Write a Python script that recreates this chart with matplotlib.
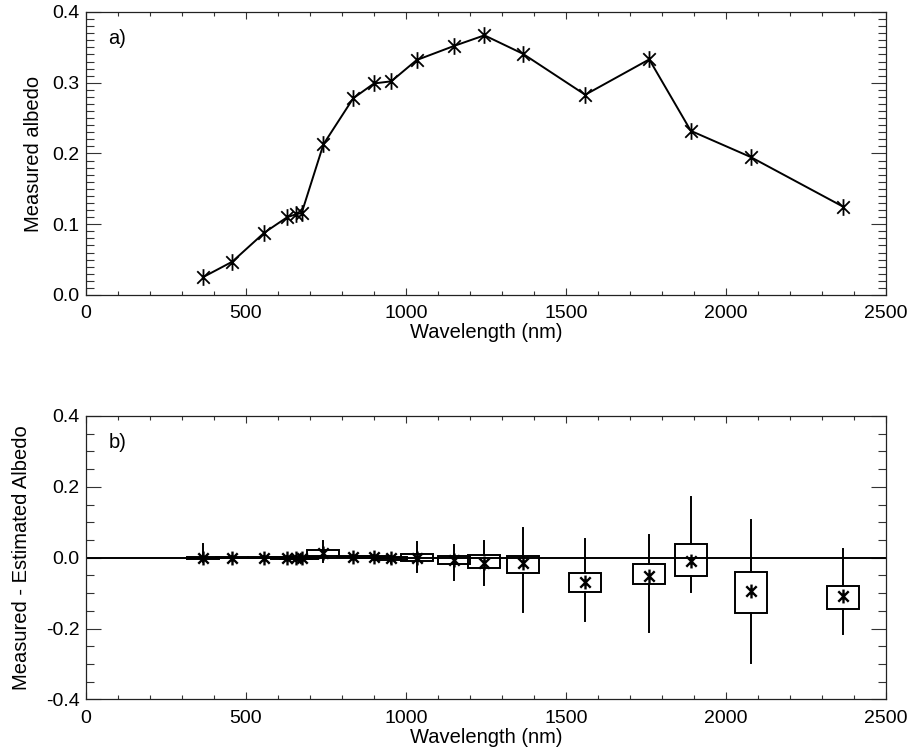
import matplotlib
matplotlib.use("Agg")
import matplotlib.pyplot as plt
from matplotlib.path import Path
from matplotlib.patches import Rectangle
from matplotlib.ticker import MultipleLocator

plt.rcParams["font.family"] = ["Liberation Sans", "DejaVu Sans"]

# Data
wavelength = [365, 457, 557, 629, 656, 674, 742, 835, 900, 954, 1033, 1150,
              1245, 1365, 1560, 1760, 1890, 2077, 2365]
albedo = [0.025, 0.047, 0.088, 0.110, 0.114, 0.116, 0.213, 0.278, 0.299, 0.302,
          0.332, 0.352, 0.367, 0.341, 0.283, 0.333, 0.232, 0.195, 0.125]

diff_mean = [0.0, 0.0, 0.0, -0.001, -0.002, -0.002, 0.012, 0.003, 0.002, -0.002,
             0.0, -0.006, -0.014, -0.015, -0.068, -0.051, -0.009, -0.093, -0.108]
box_hi = [0.003, 0.002, 0.002, 0.002, 0.002, 0.002, 0.023, 0.005, 0.004, 0.002,
          0.010, 0.005, 0.007, 0.005, -0.044, -0.019, 0.040, -0.040, -0.079]
box_lo = [-0.003, -0.002, -0.002, -0.003, -0.004, -0.004, 0.004, 0.001, 0.0, -0.005,
          -0.010, -0.019, -0.029, -0.042, -0.097, -0.075, -0.051, -0.157, -0.146]
whisk_hi = [0.040, 0.005, 0.005, 0.006, 0.006, 0.006, 0.046, 0.009, 0.008, 0.006,
            0.043, 0.037, 0.046, 0.084, 0.054, 0.063, 0.171, 0.106, 0.026]
whisk_lo = [-0.012, -0.005, -0.005, -0.007, -0.008, -0.008, -0.012, -0.004, -0.005, -0.015,
            -0.040, -0.063, -0.077, -0.153, -0.179, -0.209, -0.098, -0.296, -0.215]
box_width = 100

# IDL-style asterisk: vertical bar plus an X
d = 0.75
star = Path([(0, -1), (0, 1), (-d, -d), (d, d), (-d, d), (d, -d)],
            [Path.MOVETO, Path.LINETO, Path.MOVETO, Path.LINETO, Path.MOVETO, Path.LINETO])


def style_axes(ax, ymaj, ymin):
    ax.set_xlim(0, 2500)
    ax.xaxis.set_major_locator(MultipleLocator(500))
    ax.xaxis.set_minor_locator(MultipleLocator(100))
    ax.yaxis.set_major_locator(MultipleLocator(ymaj))
    ax.yaxis.set_minor_locator(MultipleLocator(ymin))
    ax.yaxis.set_major_formatter(plt.FormatStrFormatter("%.1f"))
    ax.tick_params(axis="both", which="both", direction="in", top=True, right=True,
                   labelsize=14, width=0.8, color="#333333")
    ax.tick_params(axis="y", which="major", length=11, pad=4.5)
    ax.tick_params(axis="y", which="minor", length=6)
    ax.tick_params(axis="x", which="major", length=5, pad=7.5)
    ax.tick_params(axis="x", which="minor", length=3)
    for s in ax.spines.values():
        s.set_linewidth(0.9)
        s.set_color("#222222")
    ax.set_xlabel("Wavelength (nm)", fontsize=14.5, va="top")
    ax.xaxis.set_label_coords(0.5, -0.1)


fig = plt.figure(figsize=(9.14, 7.54), dpi=100)

# a) measured albedo
ax1 = fig.add_axes([0.0941, 0.6088, 0.8753, 0.3753])
ax1.plot(wavelength, albedo, color="black", lw=1.4, marker=star, ms=12, mew=1.3)
ax1.set_ylim(0, 0.4)
style_axes(ax1, 0.1, 0.01)
ax1.set_ylabel("Measured albedo", fontsize=14.5, labelpad=7)
ax1.text(0.028, 0.905, "a)", transform=ax1.transAxes, fontsize=14.5, va="center")

# b) measured - estimated
ax2 = fig.add_axes([0.0941, 0.0723, 0.8753, 0.376])
ax2.axhline(0, color="black", lw=1.4)
for x, m, bh, bl, wh, wl in zip(wavelength, diff_mean, box_hi, box_lo, whisk_hi, whisk_lo):
    ax2.add_patch(Rectangle((x - box_width / 2, bl), box_width, bh - bl,
                            fill=False, edgecolor="black", lw=1.4))
    ax2.plot([x, x], [bh, wh], color="black", lw=1.4)
    ax2.plot([x, x], [wl, bl], color="black", lw=1.4)
ax2.plot(wavelength, diff_mean, ls="none", color="black", marker=star, ms=10, mew=1.7)
ax2.set_ylim(-0.4, 0.4)
style_axes(ax2, 0.2, 0.05)
ax2.set_ylabel("Measured - Estimated Albedo", fontsize=14.5, labelpad=11)
ax2.text(0.028, 0.908, "b)", transform=ax2.transAxes, fontsize=14.5, va="center")

fig.savefig("out.png", dpi=100)
